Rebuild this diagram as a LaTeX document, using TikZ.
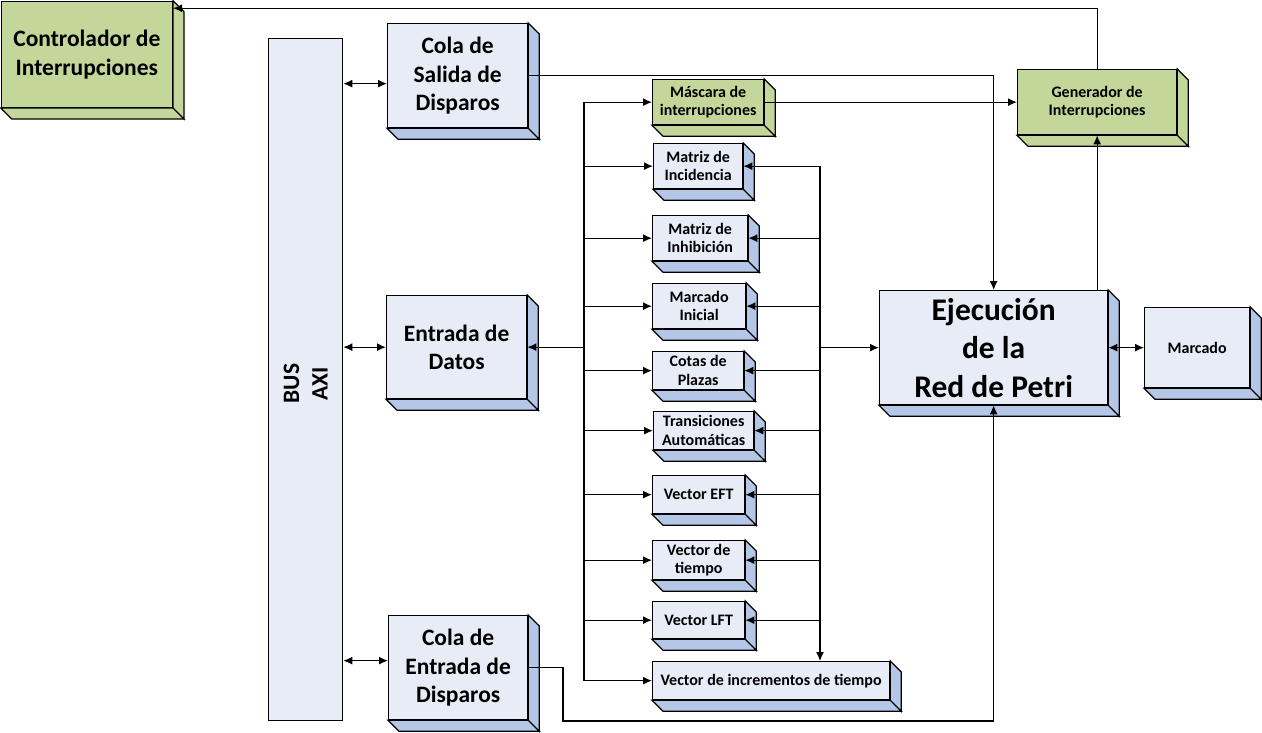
\documentclass[tikz,border=0pt]{standalone}
\usepackage{fontspec}
\setmainfont{Carlito}
\usetikzlibrary{arrows.meta}
\definecolor{bfront}{RGB}{231,236,247}
\definecolor{bside}{RGB}{180,199,231}
\definecolor{gfront}{RGB}{196,215,155}

\begin{document}
\begin{tikzpicture}[x=1pt,y=-1pt,>={Latex[length=9pt,width=8pt]},line width=1.3pt,
                    cube/.style={draw,fill=bfront,inner sep=0pt,anchor=north west,align=center},
                    big box/.style={cube,font=\fontsize{23.5}{28.5}\selectfont\bfseries},
                    small box/.style={cube,font=\fontsize{16}{18.5}\selectfont\bfseries},
                    irq box/.style={fill=gfront}]
  \useasboundingbox (0,0) rectangle (1262,732);
  \node[big box,irq box,minimum width=171pt,minimum height=106pt] (ctrl) at (0.7,0.7) {Controlador de\\Interrupciones};
  \node[cube,minimum width=74pt,minimum height=682pt] (bus) at (268,38) {};
  \node[rotate=90,align=center,font=\fontsize{23.5}{28.5}\selectfont\bfseries] (bus txt) at ([yshift=-4pt]bus.center) {BUS\\AXI};
  \node[big box,minimum width=140pt,minimum height=104pt] (cs) at (387,23) {Cola de\\Salida de\\Disparos};
  \node[big box,minimum width=140pt,minimum height=103pt] (ed) at (386,295) {Entrada de\\Datos};
  \node[big box,minimum width=139pt,minimum height=104pt] (ce) at (388,615) {Cola de\\Entrada de\\Disparos};
  \node[small box,irq box,minimum width=111pt,minimum height=45pt] (mask) at (652,79) {Máscara de\\interrupciones};
  \node[small box,minimum width=89pt,minimum height=45pt] (inc) at (653,143) {Matriz de\\Incidencia};
  \node[small box,minimum width=95pt,minimum height=45pt] (inh) at (652,215) {Matriz de\\Inhibición};
  \node[small box,minimum width=93pt,minimum height=45pt] (m0) at (652,283) {Marcado\\Inicial};
  \node[small box,minimum width=91pt,minimum height=38pt] (cot) at (652,351) {Cotas de\\Plazas};
  \node[small box,minimum width=100pt,minimum height=38pt] (ta) at (653,411) {Transiciones\\Automáticas};
  \node[small box,minimum width=92pt,minimum height=38pt] (eft) at (652,475) {Vector EFT};
  \node[small box,minimum width=92pt,minimum height=39pt] (vt) at (652,540) {Vector de\\tiempo};
  \node[small box,minimum width=92pt,minimum height=37pt] (lft) at (652,601) {Vector LFT};
  \node[small box,minimum width=237pt,minimum height=38pt] (vinc) at (652,661) {Vector de incrementos de tiempo};
  \node[small box,irq box,minimum width=159pt,minimum height=65pt] (gen) at (1017,69) {Generador de\\Interrupciones};
  \node[cube,font=\fontsize{31.5}{38.5}\selectfont\bfseries,minimum width=228pt,minimum height=114pt] (ej) at (879,290) {Ejecución\\de la\\Red de Petri};
  \node[small box,minimum width=105pt,minimum height=80pt] (mk) at (1144,307) {Marcado};

  \foreach \n/\c in {ctrl/gfront,cs/bside,ed/bside,ce/bside,mask/gfront,inc/bside,inh/bside,m0/bside,
                     cot/bside,ta/bside,eft/bside,vt/bside,lft/bside,vinc/bside,gen/gfront,ej/bside,mk/bside}
    \filldraw[fill=\c] (\n.north east) -- ++(11,11) -- ([shift={(11,11)}]\n.south east) -- (\n.south east) -- cycle
                       (\n.south west) -- ++(11,11) -- ([shift={(11,11)}]\n.south east) -- (\n.south east) -- cycle;

  \coordinate (lb) at (584,0);
  \coordinate (rb) at (820,0);
  \coordinate (ctrl in) at ([yshift=-7.5pt]ctrl.north east);
  \coordinate (cs in) at ([yshift=-8pt]cs.west);
  \coordinate (ce in) at ([yshift=7pt]ce.west);
  \coordinate (ce bend) at (563,721);

  \draw[<->] (bus.east |- cs in) -- (cs in);
  \draw[<->] (bus.east |- ed.west) -- (ed.west);
  \draw[<->] (bus.east |- ce in) -- (ce in);
  \draw[->] (cs.east) -| (ej.north);
  \draw[->] (ce.east) -| (ce bend) -| (ej.south);
  \draw (lb |- mask.west) -- (lb |- vinc.west);
  \draw[->] (lb |- ed.east) -- (ed.east);
  \foreach \n in {mask,inc,inh,m0,cot,ta,eft,vt,lft,vinc}
    \draw[->] (lb |- \n.west) -- (\n.west);
  \draw[->] (rb |- inc.east) -- (rb |- vinc.north);
  \foreach \n in {inc,inh,m0,cot,ta,eft,vt,lft}
    \draw[->] (rb |- \n.east) -- (\n.east);
  \path[->]
    (rb |- ej.west) edge (ej.west)
    (mask.east) edge (gen.west)
    (ej.north -| gen.south) edge (gen.south)
    (ej.east) edge[<->] (mk.west);
  \draw[->] (gen.north) |- (ctrl in);
\end{tikzpicture}
\end{document}
